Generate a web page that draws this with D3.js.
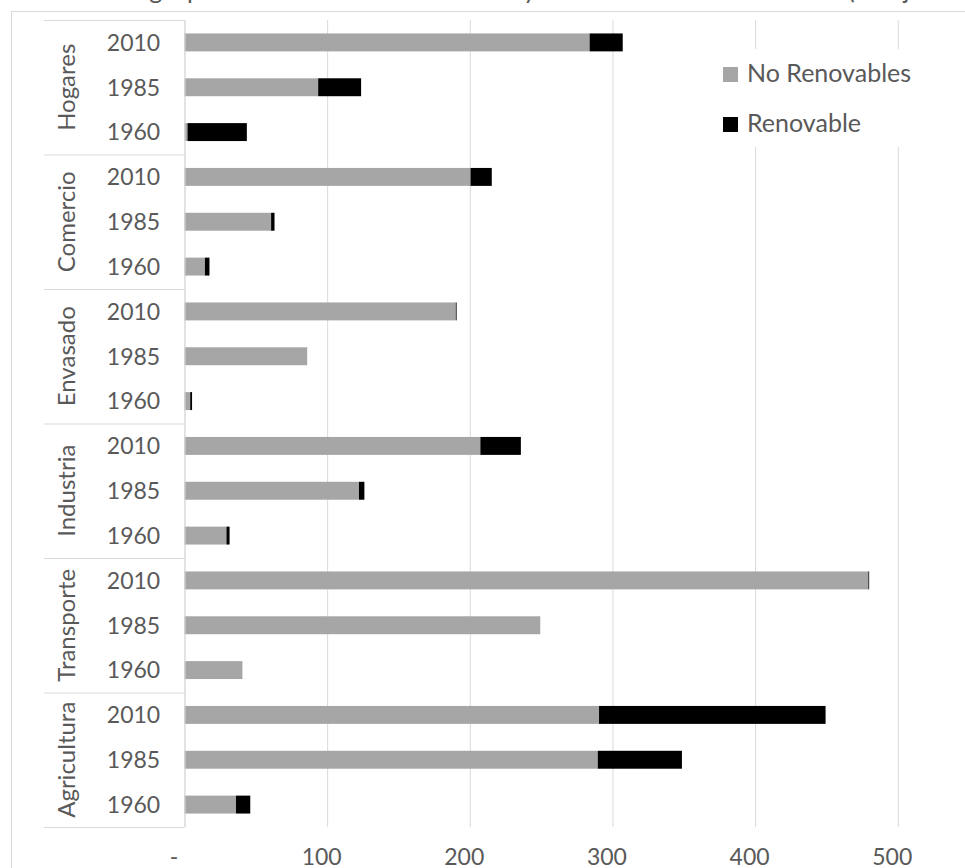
<!DOCTYPE html>
<html>
<head>
  <meta charset="utf-8">
  <title>Consumo de energía por sector</title>
  <script src="https://d3js.org/d3.v7.min.js"></script>
  <style>
    body {
      margin: 0;
      background: #fff;
      font-family: Lato, 'Open Sans', sans-serif;
      color: #595959;
    }
    svg text { fill: #595959; }
    .grid line { stroke: #d9d9d9; stroke-width: 1; }
    .cat-line { stroke: #d9d9d9; stroke-width: 1; }
  </style>
</head>
<body>
  <div id="chart"></div>
  <script>
    // rows go top to bottom, years inside each sector
    var sectors = ["Hogares", "Comercio", "Envasado", "Industria", "Transporte", "Agricultura"];
    var years = ["2010", "1985", "1960"];
    var noRenovables = [
      284, 93.7, 2.1,
      200.5, 60.7, 14.3,
      190.2, 86, 4,
      207.4, 122.3, 29.4,
      479.4, 249.4, 40.6,
      290.6, 289.7, 36.1
    ];
    var renovable = [
      23.2, 30.1, 41.6,
      14.9, 2.4, 3.2,
      0.3, 0, 1.3,
      28.4, 3.8, 2.2,
      0.3, 0, 0,
      158.8, 59, 10
    ];
    var xTicks = [0, 100, 200, 300, 400, 500];
    var seriesNames = ["No Renovables", "Renovable"];
    var colors = ["#a6a6a6", "#000000"];

    var W = 965, H = 868;
    var plotTop = 20, plotBottom = 827, plotLeft = 184.5;

    var rows = [];
    sectors.forEach(function(s, i) {
      years.forEach(function(yr, j) {
        var k = i * years.length + j;
        rows.push({key: s + "|" + yr, sector: s, year: yr, nr: noRenovables[k], r: renovable[k]});
      });
    });

    var svg = d3.select("#chart")
      .append("svg")
      .attr("width", W)
      .attr("height", H);

    // outer chart frame (runs past the picture edge)
    svg.append("rect")
      .attr("x", 11.5).attr("y", 11.5)
      .attr("width", 1200).attr("height", 1200)
      .attr("fill", "none")
      .attr("stroke", "#d9d9d9");

    // title, mostly cut off above the frame
    var title = svg.append("text")
      .attr("x", 0)
      .attr("y", -1)
      .style("font-size", "25px")
      .text("Uso de energía por sector del área alimentaria y naturaleza renovable o fósil (Petajoules)");
    var tn = title.node();
    var pos = tn.getStartPositionOfChar(tn.textContent.indexOf("(")).x;
    title.attr("x", 848 - pos);

    var x = d3.scaleLinear()
      .domain([0, 600])
      .range([plotLeft, plotLeft + 1.4265 * 600]);

    var y = d3.scaleBand()
      .domain(rows.map(function(d) { return d.key; }))
      .range([plotTop, plotBottom])
      .paddingInner(0.6)
      .paddingOuter(0.3);

    // gridlines + value labels
    var xAxis = svg.append("g")
      .attr("class", "grid")
      .attr("transform", "translate(0," + plotBottom + ")")
      .call(d3.axisBottom(x)
        .tickValues(xTicks)
        .tickSize(-(plotBottom - plotTop))
        .tickPadding(22)
        .tickFormat(function(d) { return d === 0 ? "-" : d; }));
    xAxis.select(".domain").remove();
    xAxis.selectAll("text")
      .attr("dx", function(d) { return d === 0 ? -11 : -6; })
      .style("font-size", "23px")
      .style("font-family", "Lato, 'Open Sans', sans-serif");

    // stacked bars
    svg.append("g").selectAll("rect")
      .data(rows)
      .join("rect")
      .attr("x", x(0))
      .attr("y", function(d) { return y(d.key); })
      .attr("width", function(d) { return x(d.nr) - x(0); })
      .attr("height", y.bandwidth())
      .attr("fill", colors[0]);

    svg.append("g").selectAll("rect")
      .data(rows.filter(function(d) { return d.r > 0; }))
      .join("rect")
      .attr("x", function(d) { return x(d.nr); })
      .attr("y", function(d) { return y(d.key); })
      .attr("width", function(d) { return Math.max(x(d.nr + d.r) - x(d.nr), 0.8); })
      .attr("height", y.bandwidth())
      .attr("fill", colors[1]);

    // category axis: year labels
    var yAxis = svg.append("g")
      .attr("transform", "translate(" + plotLeft + ",0)")
      .call(d3.axisLeft(y)
        .tickSize(0)
        .tickFormat(function(k) { return k.split("|")[1]; }));
    yAxis.select(".domain")
      .attr("stroke", "#d9d9d9")
      .attr("d", "M0.5," + plotTop + "V" + plotBottom);
    yAxis.selectAll("text")
      .attr("x", -51)
      .attr("text-anchor", "middle")
      .attr("dy", "0.36em")
      .style("font-size", "23px")
      .style("font-family", "Lato, 'Open Sans', sans-serif");

    // group separators and sector labels
    var groupH = y.step() * years.length;
    svg.append("g").selectAll("line")
      .data(d3.range(sectors.length + 1))
      .join("line")
      .attr("class", "cat-line")
      .attr("x1", 44).attr("x2", plotLeft)
      .attr("y1", function(i) { return plotTop + i * groupH + 0.5; })
      .attr("y2", function(i) { return plotTop + i * groupH + 0.5; });

    svg.append("g").selectAll("text")
      .data(sectors)
      .join("text")
      .attr("transform", function(s, i) {
        return "translate(65," + (plotTop + (i + 0.5) * groupH) + ") rotate(-90)";
      })
      .attr("text-anchor", "middle")
      .attr("dominant-baseline", "central")
      .style("font-size", "24px")
      .text(function(s) { return s; });

    // legend
    var legend = svg.append("g");
    legend.append("rect")
      .attr("x", 718).attr("y", 49)
      .attr("width", 240).attr("height", 98)
      .attr("fill", "#fff");
    var items = legend.selectAll("g")
      .data(seriesNames)
      .join("g")
      .attr("transform", function(d, i) { return "translate(723," + (67 + i * 50) + ")"; });
    items.append("rect")
      .attr("width", 15).attr("height", 15)
      .attr("fill", function(d, i) { return colors[i]; });
    items.append("text")
      .attr("x", 24)
      .attr("y", 15)
      .style("font-size", "25px")
      .text(function(d) { return d; });
  </script>
</body>
</html>
